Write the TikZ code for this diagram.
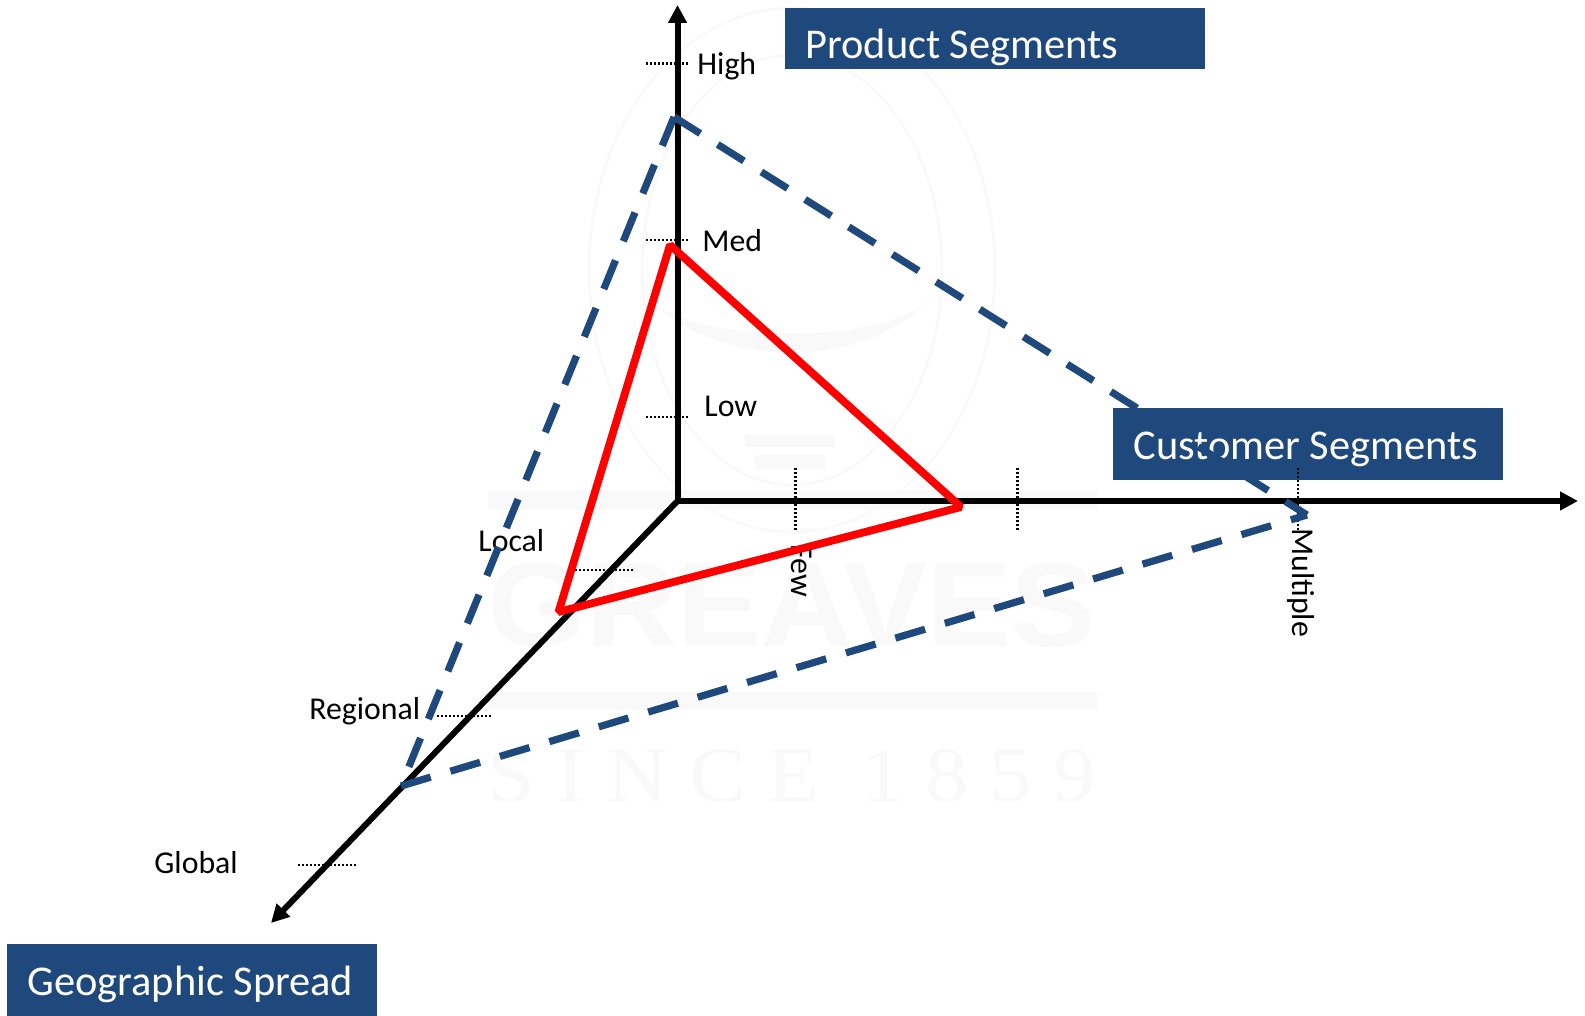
\documentclass[tikz,border=0pt]{standalone}
\usepackage{fontspec}
\setmainfont{Carlito}
\newfontfamily\wmfont{Liberation Sans}
\newfontfamily\wmserif{Liberation Serif}
\usetikzlibrary{arrows.meta}
\definecolor{navy}{HTML}{1F497D}
\definecolor{wm}{HTML}{F9F9F9}
\tikzset{
  x=0.5pt,y=-0.5pt,
  axisline/.style={draw=black,line width=3pt,-{Triangle[length=9pt,width=9pt]}},
  tick/.style={draw=black,line width=1.1pt,dash pattern=on 1pt off 1pt},
  bluedash/.style={draw=navy,line width=3.6pt,dash pattern=on 15.5pt off 10.3pt},
  redtri/.style={draw=red,line width=3.9pt,line join=bevel},
  banner/.style={fill=navy,text=white,font=\fontsize{21.2}{25}\selectfont,anchor=west,inner sep=0pt},
  lab/.style={font=\fontsize{15.9}{18}\selectfont,text=black,inner sep=0pt},
  wmrule/.style={draw=wm,line width=1.2pt},
}
\begin{document}
\begin{tikzpicture}
\useasboundingbox (0,0) rectangle (1585,1016);
\fill[white] (0,0) rectangle (1585,1016);
% watermark
\draw[wmrule] (792,270) ellipse [x radius=203,y radius=262];
\draw[wmrule] (792,270) ellipse [x radius=150,y radius=215];
\fill[wm] (650,300) .. controls (720,370) and (860,370) .. (930,300) .. controls (880,345) and (700,345) .. (650,300) -- cycle;
\fill[wm] (745,435) rectangle (835,447);
\fill[wm] (755,455) rectangle (825,470);
\fill[wm] (488,490) rectangle (1097,510);
\fill[wm] (488,692) rectangle (1097,710);
\node (wmname) at (792,605) [inner sep=0pt,text=wm] {\resizebox{304pt}{42pt}{\wmfont\bfseries GREAVES}};
\node (wmsince) at (792,776) [inner sep=0pt,text=wm] {\resizebox{304pt}{26pt}{\wmserif S I N C E\ \ 1 8 5 9}};
% banners
\fill[navy] (785,8) rectangle (1205,69);
\fill[navy] (1113,408) rectangle (1503,480);
\fill[navy] (7,944) rectangle (377,1016);
\node[banner] (prod) at (805,47) {Product Segments};
\node[banner] (cust) at (1133,449) {Customer Segments};
\node[banner] (geo) at (27,984) {Geographic Spread};
% named points
\coordinate (O) at (677.5,501);
\coordinate (ytip) at (677.5,5);
\coordinate (xtip) at (1578,501);
\coordinate (ztip) at (271,923);
\coordinate (A) at (674,117);
\coordinate (B) at (1307,515);
\coordinate (C) at (401,786);
\coordinate (P) at (670,245);
\coordinate (Q) at (961,507);
\coordinate (R) at (558.5,612);
% dotted ticks
\coordinate (h1) at (645.5,63.5); \coordinate (h2) at (688,63.5);
\coordinate (m1) at (645.5,240); \coordinate (m2) at (688,240);
\coordinate (l1) at (645.5,416.7); \coordinate (l2) at (688,416.7);
\coordinate (f1) at (795.5,468); \coordinate (f2) at (795.5,532);
\coordinate (g1) at (1017.4,468); \coordinate (g2) at (1017.4,532);
\coordinate (k1) at (1298,468); \coordinate (k2) at (1298,532);
\coordinate (c1) at (575,570); \coordinate (c2) at (634,570);
\coordinate (d1) at (437,715.7); \coordinate (d2) at (493,715.7);
\coordinate (e1) at (298,865); \coordinate (e2) at (357,865);
\foreach \a/\b in {h1/h2,m1/m2,l1/l2,f1/f2,g1/g2,k1/k2,c1/c2,d1/d2,e1/e2}
  \draw[tick] (\a) -- (\b);
% axes
\draw[axisline] (O) -- (ytip);
\draw[axisline] (O) -- (xtip);
\draw[axisline] (O) -- (ztip);
% labels
\node[lab,anchor=base west] (high) at (697,75) {High};
\node[lab,anchor=base west] (med) at (702,252) {Med};
\node[lab,anchor=base west] (low) at (704,416) {Low};
\node[lab,anchor=base west] (local) at (478,551) {Local};
\node[lab,anchor=base west] (regional) at (309,719) {Regional};
\node[lab,anchor=base west] (global) at (154,873) {Global};
\node[lab,rotate=-90,anchor=base west] (few) at (791.5,544) {Few};
\node[lab,rotate=-90,anchor=base west] (multi) at (1292,528) {Multiple};
% triangles
\draw[bluedash] (A) -- (B);
\draw[bluedash] (A) -- (C);
\draw[bluedash] (C) -- (B);
\draw[redtri] (P) -- (Q) -- (R) -- cycle;
\end{tikzpicture}
\end{document}
